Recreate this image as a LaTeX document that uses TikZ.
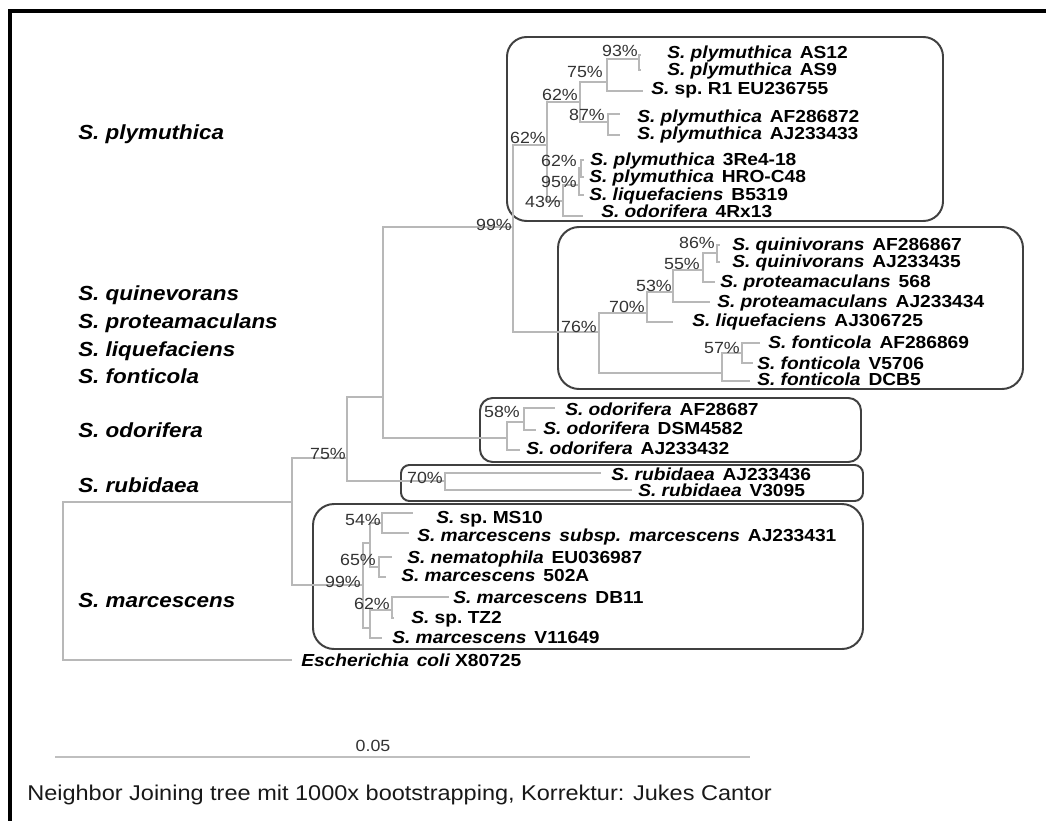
\documentclass[tikz,border=0pt]{standalone}
\usepackage{fontspec}
\setmainfont{Liberation Sans}[FakeStretch=1.1]
\usepackage{tikz}

\newcommand{\taxlab}[2]{{\itshape #1}\hspace{0.45em}#2}

\begin{document}
\begin{tikzpicture}[x=0.025cm, y=-0.025cm,
    branch/.style = {draw=black!28, line width=0.8pt},
    cladebox/.style = {draw=black!75, line width=1.4pt},
    taxon/.style = {anchor=base west, inner sep=0pt, font=\fontsize{12.4}{14}\selectfont\bfseries},
    grouplab/.style = {anchor=base west, inner sep=0pt, font=\fontsize{14.5}{17}\selectfont\bfseries\itshape},
    pct/.style = {anchor=base east, inner sep=0pt, text=black!80, font=\fontsize{11.5}{13}\selectfont}]
    \useasboundingbox (0,0) rectangle (1046,821);
    \draw[line width=2.6pt] (10,821) -- (10,11) -- (1046,11);

    \draw[cladebox, rounded corners=14pt] (507,37) rectangle (943,221);
    \draw[cladebox, rounded corners=15pt] (558,227) rectangle (1023,389);
    \draw[cladebox, rounded corners=9pt] (480,398) rectangle (861,462);
    \draw[cladebox, rounded corners=6pt] (401,465) rectangle (863,501);
    \draw[cladebox, rounded corners=15pt] (313,504) rectangle (863,649);

    \node[grouplab] (gpl) at (78,139) {S. plymuthica};
    \node[grouplab] (gqu) at (78,300) {S. quinevorans};
    \node[grouplab] (gpr) at (78,328) {S. proteamaculans};
    \node[grouplab] (gli) at (78,356) {S. liquefaciens};
    \node[grouplab] (gfo) at (78,383) {S. fonticola};
    \node[grouplab] (god) at (78,437) {S. odorifera};
    \node[grouplab] (gru) at (78,492) {S. rubidaea};
    \node[grouplab] (gma) at (78,607) {S. marcescens};

    \coordinate (nroot) at (63,581);
    \coordinate (nc) at (292,502);
    \coordinate (nb) at (347,458);
    \coordinate (na) at (383,397);
    \coordinate (n99) at (513,227);
    \coordinate (n62a) at (547,145);
    \coordinate (n62b) at (580,102);
    \coordinate (n75p) at (607,82);
    \coordinate (n93) at (639,59);
    \coordinate (n87) at (608,122);
    \coordinate (n43) at (563,201);
    \coordinate (n95) at (579,185);
    \coordinate (n62c) at (581,168);
    \coordinate (n76) at (599,332);
    \coordinate (n70q) at (647,313);
    \coordinate (n53) at (673,292);
    \coordinate (n55) at (703,270);
    \coordinate (n86) at (717,253);
    \coordinate (nf) at (722,373);
    \coordinate (n57) at (742,353);
    \coordinate (nod) at (507,438);
    \coordinate (n58) at (524,422);
    \coordinate (nr) at (445,481);
    \coordinate (n99m) at (363,585);
    \coordinate (nm1) at (370,543);
    \coordinate (nm2) at (370,628);
    \coordinate (n54) at (382,523);
    \coordinate (n65) at (379,567);
    \coordinate (n62m) at (392,610);

    \coordinate (ep1) at (641,55);
    \coordinate (ep2) at (641,70);
    \coordinate (ep3) at (643,91);
    \coordinate (ep4) at (620,114);
    \coordinate (ep5) at (620,135);
    \coordinate (ep6) at (584,160);
    \coordinate (ep7) at (584,177);
    \coordinate (ep8) at (584,195);
    \coordinate (ep9) at (583,216);
    \node[taxon] (p1) at (667,59) {\taxlab{S. plymuthica}{AS12}};
    \node[taxon] (p2) at (667,76) {\taxlab{S. plymuthica}{AS9}};
    \node[taxon] (p3) at (651,95) {{\itshape S.} sp.\ R1 EU236755};
    \node[taxon] (p4) at (637,122) {\taxlab{S. plymuthica}{AF286872}};
    \node[taxon] (p5) at (637,139) {\taxlab{S. plymuthica}{AJ233433}};
    \node[taxon] (p6) at (590,165) {\taxlab{S. plymuthica}{3Re4-18}};
    \node[taxon] (p7) at (589,182) {\taxlab{S. plymuthica}{HRO-C48}};
    \node[taxon] (p8) at (589,200) {\taxlab{S. liquefaciens}{B5319}};
    \node[taxon] (p9) at (601,217) {\taxlab{S. odorifera}{4Rx13}};

    \coordinate (eq1) at (720,245);
    \coordinate (eq2) at (720,262);
    \coordinate (eq3) at (715,282);
    \coordinate (eq4) at (710,302);
    \coordinate (eq5) at (673,322);
    \coordinate (eq6) at (760,343);
    \coordinate (eq7) at (753,363);
    \coordinate (eq8) at (750,381);
    \node[taxon] (q1) at (732,250) {\taxlab{S. quinivorans}{AF286867}};
    \node[taxon] (q2) at (732,267) {\taxlab{S. quinivorans}{AJ233435}};
    \node[taxon] (q3) at (720,287) {\taxlab{S. proteamaculans}{568}};
    \node[taxon] (q4) at (717,307) {\taxlab{S. proteamaculans}{AJ233434}};
    \node[taxon] (q5) at (692,326) {\taxlab{S. liquefaciens}{AJ306725}};
    \node[taxon] (q6) at (768,348) {\taxlab{S. fonticola}{AF286869}};
    \node[taxon] (q7) at (757,369) {\taxlab{S. fonticola}{V5706}};
    \node[taxon] (q8) at (757,385) {\taxlab{S. fonticola}{DCB5}};

    \coordinate (eo1) at (555,408);
    \coordinate (eo2) at (536,430);
    \coordinate (eo3) at (520,450);
    \node[taxon] (o1) at (565,415) {\taxlab{S. odorifera}{AF28687}};
    \node[taxon] (o2) at (543,434) {\taxlab{S. odorifera}{DSM4582}};
    \node[taxon] (o3) at (526,454) {\taxlab{S. odorifera}{AJ233432}};

    \coordinate (er1) at (601,473);
    \coordinate (er2) at (632,490);
    \node[taxon] (r1) at (611,480) {\taxlab{S. rubidaea}{AJ233436}};
    \node[taxon] (r2) at (638,496) {\taxlab{S. rubidaea}{V3095}};

    \coordinate (em1) at (413,513);
    \coordinate (em2) at (409,533);
    \coordinate (em3) at (392,557);
    \coordinate (em4) at (386,577);
    \coordinate (em5) at (449,597);
    \coordinate (em6) at (394,618);
    \coordinate (em7) at (382,638);
    \coordinate (eec) at (292,660);
    \node[taxon] (m1) at (436,523) {{\itshape S.} sp.\ MS10};
    \node[taxon] (m2) at (417,541) {\taxlab{S. marcescens\hspace{0.45em}subsp.\hspace{0.45em}marcescens}{AJ233431}};
    \node[taxon] (m3) at (407,563) {\taxlab{S. nematophila}{EU036987}};
    \node[taxon] (m4) at (401,581) {\taxlab{S. marcescens}{502A}};
    \node[taxon] (m5) at (453,603) {\taxlab{S. marcescens}{DB11}};
    \node[taxon] (m6) at (411,623) {{\itshape S.} sp.\ TZ2};
    \node[taxon] (m7) at (392,643) {\taxlab{S. marcescens}{V11649}};
    \node[taxon] (ec) at (301,666) {{\itshape Escherichia\hspace{0.45em}coli} X80725};

    \draw[branch] (nroot) |- (nc);
    \draw[branch] (nroot) |- (eec);
    \draw[branch] (nc) |- (nb);
    \draw[branch] (nc) |- (n99m);
    \draw[branch] (nb) |- (na);
    \draw[branch] (nb) |- (nr);
    \draw[branch] (na) |- (n99);
    \draw[branch] (na) |- (nod);
    \draw[branch] (n99) |- (n62a);
    \draw[branch] (n99) |- (n76);
    \draw[branch] (n62a) |- (n62b);
    \draw[branch] (n62a) |- (n43);
    \draw[branch] (n62b) |- (n75p);
    \draw[branch] (n62b) |- (n87);
    \draw[branch] (n75p) |- (n93);
    \draw[branch] (n75p) |- (ep3);
    \draw[branch] (n93) |- (ep1);
    \draw[branch] (n93) |- (ep2);
    \draw[branch] (n87) |- (ep4);
    \draw[branch] (n87) |- (ep5);
    \draw[branch] (n43) |- (n95);
    \draw[branch] (n43) |- (ep9);
    \draw[branch] (n95) |- (n62c);
    \draw[branch] (n95) |- (ep8);
    \draw[branch] (n62c) |- (ep6);
    \draw[branch] (n62c) |- (ep7);
    \draw[branch] (n76) |- (n70q);
    \draw[branch] (n76) |- (nf);
    \draw[branch] (n70q) |- (n53);
    \draw[branch] (n70q) |- (eq5);
    \draw[branch] (n53) |- (n55);
    \draw[branch] (n53) |- (eq4);
    \draw[branch] (n55) |- (n86);
    \draw[branch] (n55) |- (eq3);
    \draw[branch] (n86) |- (eq1);
    \draw[branch] (n86) |- (eq2);
    \draw[branch] (nf) |- (n57);
    \draw[branch] (nf) |- (eq8);
    \draw[branch] (n57) |- (eq6);
    \draw[branch] (n57) |- (eq7);
    \draw[branch] (nod) |- (n58);
    \draw[branch] (nod) |- (eo3);
    \draw[branch] (n58) |- (eo1);
    \draw[branch] (n58) |- (eo2);
    \draw[branch] (nr) |- (er1);
    \draw[branch] (nr) |- (er2);
    \draw[branch] (n99m) |- (nm1);
    \draw[branch] (n99m) |- (nm2);
    \draw[branch] (nm1) |- (n54);
    \draw[branch] (nm1) |- (n65);
    \draw[branch] (n54) |- (em1);
    \draw[branch] (n54) |- (em2);
    \draw[branch] (n65) |- (em3);
    \draw[branch] (n65) |- (em4);
    \draw[branch] (nm2) |- (n62m);
    \draw[branch] (nm2) |- (em7);
    \draw[branch] (n62m) |- (em5);
    \draw[branch] (n62m) |- (em6);

    \node[pct] (b93) at (638,57) {93\%};
    \node[pct] (b75p) at (603,78) {75\%};
    \node[pct] (b62b) at (578,101) {62\%};
    \node[pct] (b87) at (605,121) {87\%};
    \node[pct] (b62a) at (546,144) {62\%};
    \node[pct] (b62c) at (577,166) {62\%};
    \node[pct] (b95) at (577,187) {95\%};
    \node[pct] (b43) at (561,207) {43\%};
    \node[pct] (b99) at (512,230) {99\%};
    \node[pct] (b86) at (715,248) {86\%};
    \node[pct] (b55) at (700,269) {55\%};
    \node[pct] (b53) at (672,291) {53\%};
    \node[pct] (b70q) at (645,312) {70\%};
    \node[pct] (b76) at (597,332) {76\%};
    \node[pct] (b57) at (740,353) {57\%};
    \node[pct] (b58) at (520,417) {58\%};
    \node[pct] (b75) at (346,459) {75\%};
    \node[pct] (b70r) at (443,483) {70\%};
    \node[pct] (b54) at (381,525) {54\%};
    \node[pct] (b65) at (376,565) {65\%};
    \node[pct] (b99m) at (361,587) {99\%};
    \node[pct] (b62m) at (390,609) {62\%};

    \coordinate (s0) at (55,757);
    \coordinate (s1) at (750,757);
    \draw[draw=black!25, line width=1pt] (s0) -- (s1);
    \node[anchor=base, inner sep=0pt, text=black!80, font=\fontsize{11.5}{13}\selectfont] (sc) at (373,751) {0.05};
    \node[anchor=base west, inner sep=0pt, text=black!90, font=\fontsize{15.2}{18}\selectfont] (cap) at (27,800) {Neighbor Joining tree mit 1000x bootstrapping, Korrektur: Jukes Cantor};
\end{tikzpicture}
\end{document}
